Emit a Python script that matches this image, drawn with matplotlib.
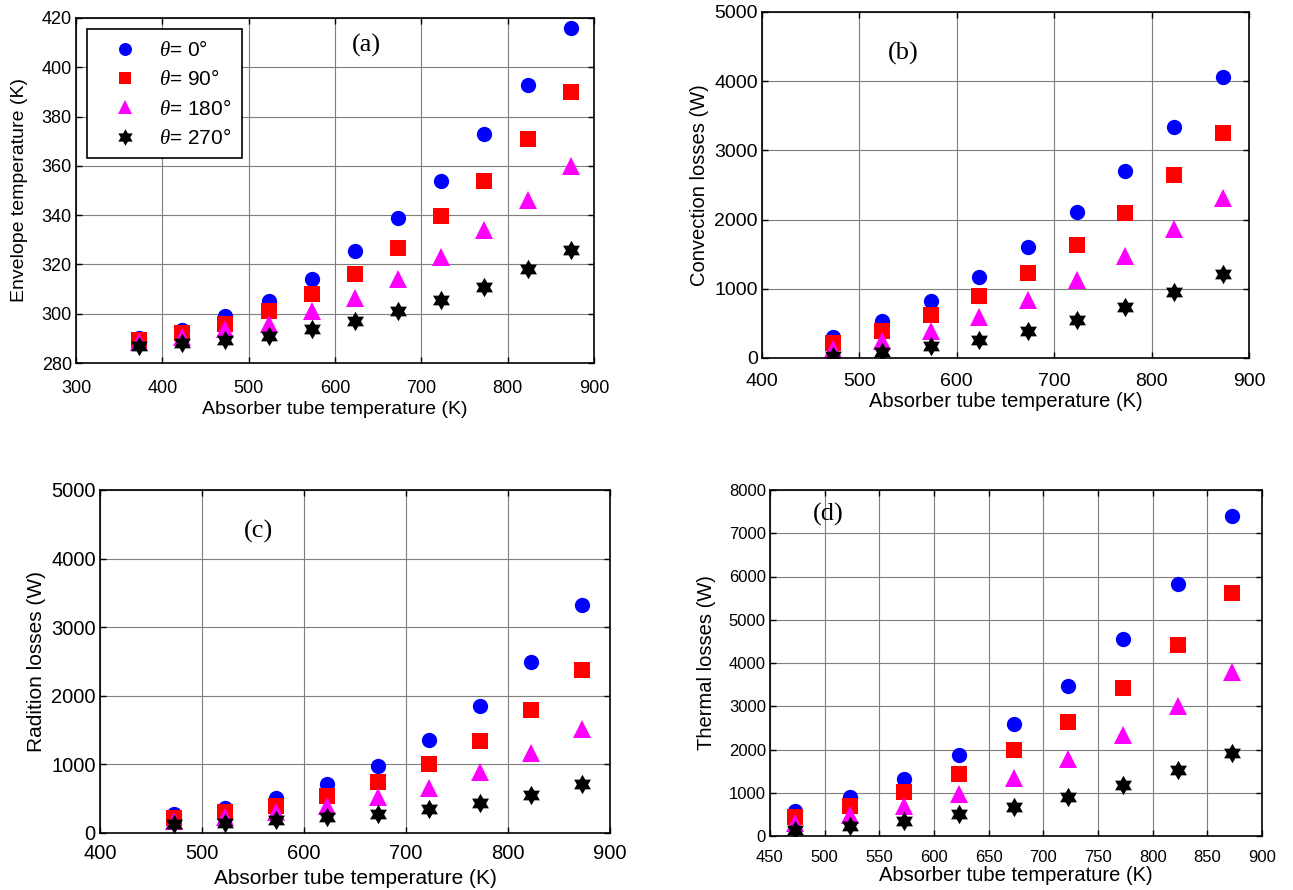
import numpy as np
import matplotlib
matplotlib.use("Agg")
import matplotlib.pyplot as plt
from matplotlib.path import Path

plt.rcParams['font.family'] = ['Liberation Sans', 'DejaVu Sans']
plt.rcParams['mathtext.fontset'] = 'custom'
plt.rcParams['mathtext.it'] = 'Liberation Serif:italic'
plt.rcParams['mathtext.rm'] = 'Liberation Sans'

# ---- data ----
T_a = [373, 423, 473, 523, 573, 623, 673, 723, 773, 823, 873]
env_0 = [290, 293.5, 299, 305, 314, 325.5, 339, 354, 373, 393, 416]
env_90 = [289.5, 292, 296, 301, 308, 316, 326.5, 339.5, 354, 371, 390]
env_180 = [288.5, 290.5, 294, 296, 301, 306.5, 314, 323, 334, 346, 360]
env_270 = [287, 288, 289.5, 291, 294, 297, 301, 305.5, 311, 318, 326]

T_b = [473, 523, 573, 623, 673, 723, 773, 823, 873]
conv_0 = [310, 540, 830, 1170, 1600, 2110, 2700, 3340, 4060]
conv_90 = [220, 390, 620, 890, 1230, 1630, 2100, 2650, 3250]
conv_180 = [130, 250, 390, 590, 840, 1120, 1470, 1860, 2310]
conv_270 = [30, 90, 170, 260, 390, 550, 740, 950, 1210]

rad_0 = [270, 370, 510, 710, 980, 1360, 1850, 2490, 3320]
rad_90 = [220, 300, 400, 540, 740, 1000, 1340, 1800, 2380]
rad_180 = [170, 230, 300, 400, 520, 660, 890, 1160, 1510]
rad_270 = [130, 150, 190, 230, 280, 350, 440, 560, 720]

th_0 = [580, 900, 1310, 1880, 2600, 3460, 4550, 5830, 7400]
th_90 = [440, 690, 1010, 1430, 1980, 2640, 3430, 4420, 5620]
th_180 = [300, 480, 690, 960, 1330, 1780, 2340, 3000, 3800]
th_270 = [150, 240, 350, 500, 680, 900, 1190, 1520, 1920]

labels = [r'$\theta$= 0°', r'$\theta$= 90°', r'$\theta$= 180°', r'$\theta$= 270°']

hexagram = Path.unit_regular_star(6, 0.577)

styles = [dict(marker='o', color='#0000FF', ms=11),
          dict(marker='s', color='#FF0000', ms=11),
          dict(marker='^', color='#FF00FF', ms=12.5),
          dict(marker=hexagram, color='#000000', ms=14)]

fig = plt.figure(figsize=(12.93, 8.90), dpi=100)
W, H = 1293, 890

def add_ax(l, r, t, b):
    return fig.add_axes([l / W, 1 - b / H, (r - l) / W, (b - t) / H])

def style(ax, xlim, xticks, ylim, yticks, ylabel, tag, tagpos, tfs, lfs,
          xpad, xlpad, ylpad):
    ax.set_xlim(*xlim)
    ax.set_ylim(*ylim)
    ax.set_xticks(xticks)
    ax.set_yticks(yticks)
    ax.grid(True, color='#7f7f7f', lw=0.8)
    ax.set_axisbelow(True)
    ax.tick_params(direction='in', top=True, right=True, labelsize=tfs, length=4, width=1)
    ax.tick_params(axis='x', pad=xpad)
    ax.tick_params(axis='y', pad=3)
    for s in ax.spines.values():
        s.set_linewidth(1.2)
    ax.set_xlabel('Absorber tube temperature (K)', fontsize=lfs, labelpad=xlpad)
    ax.set_ylabel(ylabel, fontsize=lfs, labelpad=ylpad)
    ax.text(tagpos[0], tagpos[1], tag, transform=ax.transAxes, fontsize=19,
            family='Liberation Serif', ha='center', va='center')

def plot_series(ax, x, series):
    for ys, st, lab in zip(series, styles, labels):
        ax.plot(x, ys, ls='none', marker=st['marker'], color=st['color'],
                markersize=st['ms'], markeredgewidth=0, label=lab)

# (a)
ax = add_ax(76, 594, 18, 363)
plot_series(ax, T_a, [env_0, env_90, env_180, env_270])
style(ax, (300, 900), np.arange(300, 901, 100), (280, 420), np.arange(280, 421, 20),
      'Envelope temperature (K)', '(a)', (0.56, 0.92), 13, 14, 12, 3, 10)
leg = ax.legend(loc='upper left', fontsize=15, frameon=True, fancybox=False,
                edgecolor='black', framealpha=1, borderpad=0.5, labelspacing=0.45,
                handletextpad=0.35, borderaxespad=0.55, markerscale=0.85, handlelength=2.6)
leg.get_frame().set_linewidth(1.2)

# (b)
ax = add_ax(762, 1249, 12, 358)
plot_series(ax, T_b, [conv_0, conv_90, conv_180, conv_270])
style(ax, (400, 900), np.arange(400, 901, 100), (0, 5000), np.arange(0, 5001, 1000),
      'Convection losses (W)', '(b)', (0.29, 0.88), 14, 14.5, 11, 1, 4)

# (c)
ax = add_ax(100, 610, 490, 833)
plot_series(ax, T_b, [rad_0, rad_90, rad_180, rad_270])
style(ax, (400, 900), np.arange(400, 901, 100), (0, 5000), np.arange(0, 5001, 1000),
      'Radition losses (W)', '(c)', (0.31, 0.88), 14.5, 15, 8, 4, 4)

# (d)
ax = add_ax(770, 1262, 490, 836)
plot_series(ax, T_b, [th_0, th_90, th_180, th_270])
style(ax, (450, 900), np.arange(450, 901, 50), (0, 8000), np.arange(0, 8001, 1000),
      'Thermal losses (W)', '(d)', (0.118, 0.93), 12, 14.5, 10, 1, 9)

fig.savefig('out.png', dpi=100)
